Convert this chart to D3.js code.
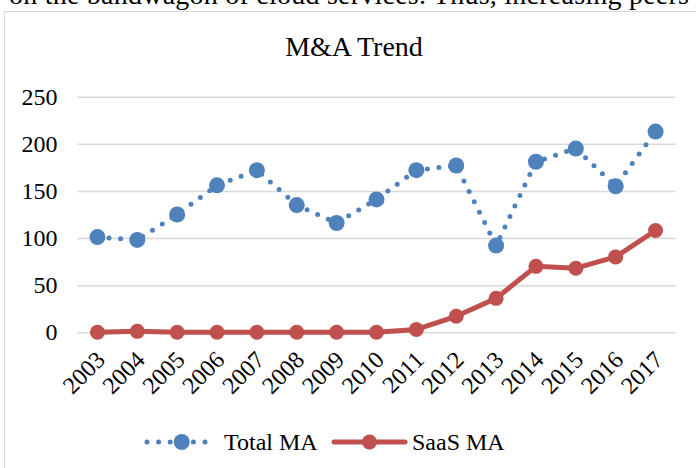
<!DOCTYPE html>
<html>
<head>
<meta charset="utf-8">
<script src="https://cdn.jsdelivr.net/npm/d3@7"></script>
<style>
    body { margin: 0; background: #fff; }
    svg { display: block; font-family: "Liberation Serif", "Times New Roman", serif; }
</style>
</head>
<body>
<svg id="ma-chart" width="696" height="468"></svg>
<script>

// data
var years = ["2003", "2004", "2005", "2006", "2007", "2008", "2009", "2010",
             "2011", "2012", "2013", "2014", "2015", "2016", "2017"];
var totalMA = [101, 98, 125, 156, 172, 135, 116, 141, 172, 177, 92, 181, 195, 155, 213];
var saasMA = [0, 1, 0, 0, 0, 0, 0, 0, 3, 17, 36, 70, 68, 80, 108];
var yTicks = [0, 50, 100, 150, 200, 250];
var seriesNames = ["Total MA", "SaaS MA"];

function TrendChart() {

    var svg = d3.select("#ma-chart");

    const width = 696;
    const height = 468;

    // plot area
    const margin = { top: 96.7, right: 20.5, bottom: 135.7, left: 77.5 };
    const Innerwidth = width - margin.left - margin.right;
    const Innerheight = height - margin.top - margin.bottom;

    svg.append("rect")
        .attr("width", width)
        .attr("height", height)
        .attr("fill", "#fff");

    // piece of the page text above the chart
    svg.append("text")
        .attr("x", 9)
        .attr("y", 4)
        .attr("font-size", 28)
        .attr("textLength", 680)
        .text("on the bandwagon of cloud services. Thus, increasing peers");

    // chart box
    svg.append("rect")
        .attr("x", 4.5)
        .attr("y", 11.5)
        .attr("width", 720)
        .attr("height", 500)
        .attr("fill", "#fff")
        .attr("stroke", "#d9d9d9")
        .attr("stroke-width", 1);

    // title
    svg.append("text")
        .attr("x", 354)
        .attr("y", 56)
        .attr("text-anchor", "middle")
        .attr("font-size", 28)
        .text("M&A Trend");

    var xScale = d3.scaleBand()
        .domain(years)
        .range([0, Innerwidth]);

    var yScale = d3.scaleLinear()
        .domain([0, 250])
        .range([Innerheight, 0]);

    var g = svg.append("g")
        .attr("transform", `translate(${margin.left},${margin.top})`);

    // gridlines + y labels
    var yAxis = g.append("g")
        .call(d3.axisLeft(yScale)
            .tickValues(yTicks)
            .tickSize(-Innerwidth)
            .tickPadding(20));
    yAxis.select(".domain").remove();
    yAxis.selectAll("line")
        .attr("stroke", "#d9d9d9")
        .attr("stroke-width", 1.4);
    yAxis.selectAll("text")
        .attr("font-family", "Liberation Serif")
        .attr("font-size", 24)
        .attr("fill", "#000");

    var cx = function (d, i) { return xScale(years[i]) + xScale.bandwidth() / 2; };

    // x labels, rotated
    g.selectAll(".year-label")
        .data(years)
        .enter()
        .append("text")
        .attr("class", "year-label")
        .attr("transform", function (d, i) {
            return `translate(${cx(d, i) + 9},${Innerheight + 29}) rotate(-45)`;
        })
        .attr("text-anchor", "end")
        .attr("font-size", 24)
        .text(function (d) { return d; });

    var line = d3.line()
        .x(cx)
        .y(function (d) { return yScale(d); });

    // Total MA - round dotted line
    g.append("path")
        .datum(totalMA)
        .attr("fill", "none")
        .attr("stroke", "#4f81bd")
        .attr("stroke-width", 5)
        .attr("stroke-linecap", "round")
        .attr("stroke-dasharray", "0 11.6")
        .attr("d", line);

    g.selectAll(".total-dot")
        .data(totalMA)
        .enter()
        .append("circle")
        .attr("class", "total-dot")
        .attr("cx", cx)
        .attr("cy", function (d) { return yScale(d); })
        .attr("r", 8)
        .attr("fill", "#4f81bd");

    // SaaS MA - solid line
    g.append("path")
        .datum(saasMA)
        .attr("fill", "none")
        .attr("stroke", "#c0504d")
        .attr("stroke-width", 5)
        .attr("stroke-linejoin", "round")
        .attr("d", line);

    g.selectAll(".saas-dot")
        .data(saasMA)
        .enter()
        .append("circle")
        .attr("class", "saas-dot")
        .attr("cx", cx)
        .attr("cy", function (d) { return yScale(d); })
        .attr("r", 7.5)
        .attr("fill", "#c0504d");

    // Legend
    var legendY = 442;
    var legend = svg.append("g");

    legend.append("line")
        .attr("x1", 147).attr("x2", 212)
        .attr("y1", legendY).attr("y2", legendY)
        .attr("stroke", "#4f81bd")
        .attr("stroke-width", 5)
        .attr("stroke-linecap", "round")
        .attr("stroke-dasharray", "0 11.6");
    legend.append("circle")
        .attr("cx", 181.7).attr("cy", legendY)
        .attr("r", 8)
        .attr("fill", "#4f81bd");
    legend.append("text")
        .attr("x", 224).attr("y", legendY + 8)
        .attr("font-size", 24)
        .text(seriesNames[0]);

    legend.append("line")
        .attr("x1", 334).attr("x2", 405)
        .attr("y1", legendY).attr("y2", legendY)
        .attr("stroke", "#c0504d")
        .attr("stroke-width", 5)
        .attr("stroke-linecap", "round");
    legend.append("circle")
        .attr("cx", 369.5).attr("cy", legendY)
        .attr("r", 7.5)
        .attr("fill", "#c0504d");
    legend.append("text")
        .attr("x", 412).attr("y", legendY + 8)
        .attr("font-size", 24)
        .text(seriesNames[1]);
}

TrendChart();

</script>
</body>
</html>
